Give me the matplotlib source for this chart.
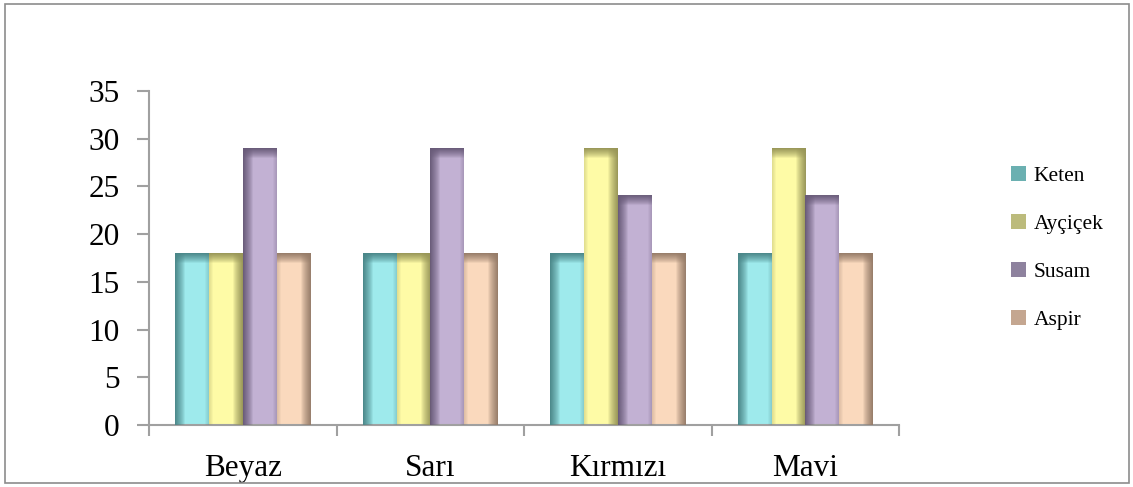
import numpy as np
import matplotlib
matplotlib.use('Agg')
from matplotlib import pyplot as plt
from matplotlib.patches import Rectangle, Patch
from matplotlib.colors import to_rgb

categories = ['Beyaz', 'Sarı', 'Kırmızı', 'Mavi']
series = ['Keten', 'Ayçiçek', 'Susam', 'Aspir']
keten = [18, 18, 18, 18]
aycicek = [18, 18, 29, 29]
susam = [29, 29, 24, 24]
aspir = [18, 18, 18, 18]
values = [keten, aycicek, susam, aspir]

fills = ['#9eeaec', '#fefba6', '#c2b1d3', '#fad9bd']
shades = ['#4a8688', '#979557', '#685a78', '#957b69']
legend_cols = ['#6bb0b1', '#bcbb7c', '#8e829e', '#c4a690']
dark_side = ['left', 'right', 'left', 'right']

plt.rcParams['font.family'] = ['Liberation Serif', 'DejaVu Serif']

W, H, DPI = 1133, 487, 100
fig = plt.figure(figsize=(W / DPI, H / DPI), dpi=DPI)
fig.patches.append(Rectangle((5 / W, 4 / H), 1124 / W, 479 / H, transform=fig.transFigure,
                             fill=False, edgecolor='#8c8c8c', lw=1.2))

ax = fig.add_axes([149 / W, 62 / H, 750 / W, 334 / H])
ax.set_xlim(-0.5, 3.5)
ax.set_ylim(0, 35)

x = np.arange(len(categories))
bw = 0.18
offsets = (np.arange(4) - 1.5) * bw


def bevel(patch, shade, side):
    # soft inner shadow along top and one side of the bar
    x0, y0 = patch.get_x(), patch.get_y()
    x1, y1 = x0 + patch.get_width(), y0 + patch.get_height()
    (px0, py0), (px1, py1) = ax.transData.transform([(x0, y0), (x1, y1)])
    nx = max(int(round(px1 - px0)), 2)
    ny = max(int(round(py1 - py0)), 2)
    xs = np.arange(nx) + 0.5
    ys = np.arange(ny) + 0.5
    fall = lambda d, w: np.clip(1 - d / w, 0, 1) ** 0.75
    if side == 'left':
        sx = fall(xs, 10) + fall(nx - xs, 4) * 0.3
    else:
        sx = fall(nx - xs, 10) + fall(xs, 4) * 0.3
    sy = fall(ys, 10)
    a = np.clip(sx[None, :] + sy[:, None] - sx[None, :] * sy[:, None], 0, 1)
    img = np.zeros((ny, nx, 4))
    img[..., :3] = to_rgb(shade)
    img[..., 3] = a
    ax.imshow(img, extent=(x0, x1, y0, y1), origin='upper', aspect='auto',
              interpolation='bilinear', zorder=3)


for i, (vals, fc) in enumerate(zip(values, fills)):
    bars = ax.bar(x + offsets[i], vals, bw, color=fc, zorder=2, linewidth=0)
    for b in bars:
        bevel(b, shades[i], dark_side[i])

ax.set_xlim(-0.5, 3.5)
ax.set_ylim(0, 35)
ax.set_yticks(np.arange(0, 36, 5))
ax.set_xticks(x)
ax.set_xticklabels(categories)
ax.set_xticks(np.arange(-0.5, 4, 1), minor=True)
ax.tick_params(axis='x', which='major', length=0, pad=21, labelsize=22.5)
ax.tick_params(axis='x', which='minor', length=8, width=1.5, color='#a0a0a0', direction='out')
ax.tick_params(axis='y', length=9, width=1.5, color='#a0a0a0', pad=12, labelsize=22.5)
for s in ['top', 'right']:
    ax.spines[s].set_visible(False)
for s in ['left', 'bottom']:
    ax.spines[s].set_color('#a0a0a0')
    ax.spines[s].set_linewidth(1.5)

handles = [Patch(facecolor=c, edgecolor='none') for c in legend_cols]
fig.legend(handles, series, loc='upper left', bbox_to_anchor=(1011 / W, 1 - 166 / H),
           frameon=False, fontsize=15.5, handlelength=0.7, handleheight=0.7,
           handletextpad=0.35, labelspacing=1.3, borderaxespad=0, borderpad=0)

fig.savefig('out.png', dpi=DPI)
